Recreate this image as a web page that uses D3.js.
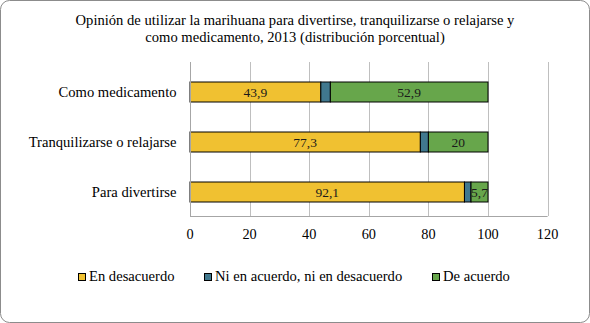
<!DOCTYPE html>
<html>
<head>
<meta charset="utf-8">
<title>Opinión marihuana</title>
<style>
  body { margin: 0; background: #fff; }
  svg { display: block; }
  svg text { font-family: "Times New Roman", "Liberation Serif", serif; }
  .grid line { stroke: #bfbfbf; stroke-width: 1; }
</style>
<script src="https://cdn.jsdelivr.net/npm/d3@7"></script>
</head>
<body>
<svg width="590" height="323"></svg>
<script>

const categories = ["Como medicamento", "Tranquilizarse o relajarse", "Para divertirse"];
const seriesNames = ["En desacuerdo", "Ni en acuerdo, ni en desacuerdo", "De acuerdo"];
const desacuerdo = [43.9, 77.3, 92.1];
const niNi = [3.2, 2.7, 2.2];
const deAcuerdo = [52.9, 20, 5.7];
const xTicks = [0, 20, 40, 60, 80, 100, 120];
const colors = ["#f0c131", "#40788e", "#67a64b"];

const svg = d3.select("svg");

// frame
svg.append("rect")
    .attr("x", 0.5).attr("y", 0.5)
    .attr("width", 589).attr("height", 322)
    .attr("rx", 9)
    .attr("fill", "#fff")
    .attr("stroke", "#8c8c8c");

// title
const title = svg.append("text")
    .attr("text-anchor", "middle")
    .attr("font-size", 14.6);
title.append("tspan").attr("x", 295).attr("y", 25)
    .text("Opinión de utilizar la marihuana para divertirse, tranquilizarse o relajarse y");
title.append("tspan").attr("x", 295).attr("y", 41.5)
    .text("como medicamento, 2013 (distribución porcentual)");

const plotL = 190, plotR = 547.6, plotT = 67, plotB = 217;

const x = d3.scaleLinear().domain([0, 120]).range([plotL, plotR]);
const y = d3.scaleBand().domain(categories).range([plotT, plotB])
    .paddingInner(0.6).paddingOuter(0.3);

// gridlines
svg.append("g").attr("class", "grid")
  .selectAll("line")
  .data(xTicks.slice(1))
  .join("line")
    .attr("x1", d => Math.round(x(d)) + 0.5)
    .attr("x2", d => Math.round(x(d)) + 0.5)
    .attr("y1", plotT - 5)
    .attr("y2", plotB - 1);

// stacked data
const rows = categories.map((c, i) => ({cat: c, vals: [desacuerdo[i], niNi[i], deAcuerdo[i]]}));

const barG = svg.append("g");
rows.forEach(r => {
  let start = 0;
  r.vals.forEach((v, j) => {
    barG.append("rect")
        .attr("x", x(start))
        .attr("y", y(r.cat))
        .attr("width", x(start + v) - x(start))
        .attr("height", y.bandwidth())
        .attr("fill", colors[j])
        .attr("stroke", "#000")
        .attr("stroke-width", 1);
    if (j !== 1) {
      barG.append("text")
          .attr("x", x(start + v / 2))
          .attr("y", y(r.cat) + y.bandwidth() / 2 + 5)
          .attr("text-anchor", "middle")
          .attr("font-size", 13.5)
          .attr("fill", "#1a1a1a")
          .text(String(v).replace(".", ","));
    }
    start += v;
  });
});

// axes lines
svg.append("line")
    .attr("x1", plotL + 0.5).attr("x2", plotL + 0.5)
    .attr("y1", plotT - 5).attr("y2", plotB - 1)
    .attr("stroke", "#a6a6a6");
svg.append("line")
    .attr("x1", plotL).attr("x2", plotR)
    .attr("y1", plotB - 0.5).attr("y2", plotB - 0.5)
    .attr("stroke", "#a6a6a6");

// x tick labels
svg.append("g")
  .selectAll("text")
  .data(xTicks)
  .join("text")
    .attr("x", d => x(d))
    .attr("y", 238.5)
    .attr("text-anchor", "middle")
    .attr("font-size", 14.3)
    .text(d => d);

// category labels
svg.append("g")
  .selectAll("text")
  .data(categories)
  .join("text")
    .attr("x", 176.5)
    .attr("y", d => y(d) + y.bandwidth() / 2 + 5)
    .attr("text-anchor", "end")
    .attr("font-size", 14.6)
    .text(d => d);

// legend
const legendX = [78, 204, 432];
const legend = svg.append("g")
  .selectAll("g")
  .data(seriesNames)
  .join("g")
    .attr("transform", (d, i) => `translate(${legendX[i]},281)`);
legend.append("rect")
    .attr("x", 0.5).attr("y", -7.5)
    .attr("width", 7).attr("height", 7)
    .attr("fill", (d, i) => colors[i])
    .attr("stroke", "#000");
legend.append("text")
    .attr("x", 11)
    .attr("y", 0)
    .attr("font-size", 14.6)
    .text(d => d);
</script>
</body>
</html>
